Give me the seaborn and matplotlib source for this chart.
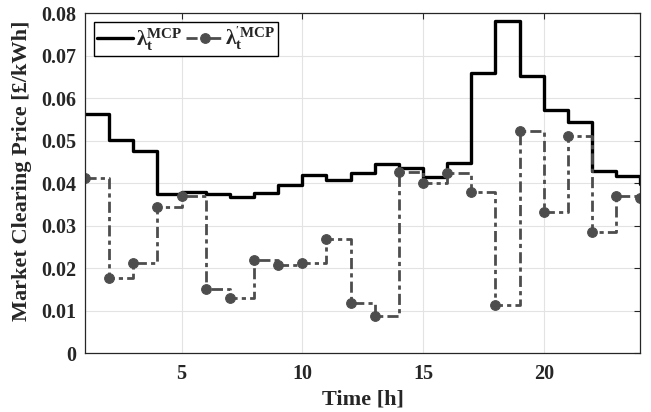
import numpy as np
import pandas as pd
import matplotlib
matplotlib.use("Agg")
import matplotlib.pyplot as plt
import seaborn as sns

hours = list(range(1, 25))
mcp = [0.0562, 0.0501, 0.0476, 0.0374, 0.0380, 0.0375, 0.0368, 0.0377,
       0.0395, 0.0419, 0.0407, 0.0423, 0.0444, 0.0435, 0.0415, 0.0448,
       0.0660, 0.0781, 0.0652, 0.0573, 0.0544, 0.0428, 0.0417, 0.0399]
mcp_prime = [0.0411, 0.0176, 0.0211, 0.0344, 0.0369, 0.0152, 0.0129, 0.0219,
             0.0207, 0.0212, 0.0268, 0.0118, 0.0087, 0.0427, 0.0401, 0.0424,
             0.0380, 0.0113, 0.0523, 0.0332, 0.0511, 0.0284, 0.0369, 0.0364]
xticks = [5, 10, 15, 20]
yticks = [0, 0.01, 0.02, 0.03, 0.04, 0.05, 0.06, 0.07, 0.08]
ytick_labels = ["0", "0.01", "0.02", "0.03", "0.04", "0.05", "0.06", "0.07", "0.08"]

sns.set_style("whitegrid")
plt.rcParams["font.family"] = ["Liberation Serif", "DejaVu Serif"]
plt.rcParams["font.weight"] = "bold"
plt.rcParams["mathtext.fontset"] = "custom"
plt.rcParams["mathtext.rm"] = "Liberation Serif:bold"
plt.rcParams["mathtext.bf"] = "Liberation Serif:bold"
plt.rcParams["mathtext.it"] = "Liberation Serif:bold"
plt.rcParams["mathtext.bfit"] = "Liberation Serif:bold"

TXT = "#262626"
df = pd.DataFrame({"h": hours, "a": mcp, "b": mcp_prime})

fig = plt.figure(figsize=(6.51, 4.12), dpi=100)
ax = fig.add_axes([0.1306, 0.143, 0.853, 0.825])

sns.lineplot(data=df, x="h", y="a", ax=ax, color="black", linewidth=2.4,
             drawstyle="steps-post", label="λ$_{t}^{MCP}$")
sns.lineplot(data=df, x="h", y="b", ax=ax, color="#4d4d4d", linewidth=2.0,
             drawstyle="steps-post", marker="o", markersize=7,
             markeredgecolor="#4d4d4d", markerfacecolor="#4d4d4d",
             dashes=False, linestyle=(0, (4, 1.5, 1.5, 1.5)),
             label="λ$_{t}^{'MCP}$")

ax.set_xlim(1, 24)
ax.set_ylim(0, 0.08)
ax.set_xticks(xticks)
ax.set_yticks(yticks)
ax.set_yticklabels(ytick_labels)
ax.tick_params(direction="in", length=4, labelsize=14.5, colors=TXT,
               top=True, right=True, width=0.8)
ax.tick_params(axis="y", pad=6)
ax.tick_params(axis="x", pad=8)
for lab in ax.get_xticklabels() + ax.get_yticklabels():
    lab.set_fontweight("bold")
ax.grid(True, color="#e3e3e3", linewidth=0.8)
for s in ax.spines.values():
    s.set_visible(True)
    s.set_color(TXT)
    s.set_linewidth(0.9)

ax.set_xlabel("Time [h]", fontsize=16, fontweight="bold", color=TXT, labelpad=4)
ax.set_ylabel("Market Clearing Price [£/kWh]", fontsize=16, fontweight="bold",
              color=TXT)
ax.yaxis.set_label_coords(-0.095, 0.535)

leg = ax.legend(loc="upper left", ncol=2, frameon=True, fancybox=False,
                fontsize=15.5, handlelength=1.7, handletextpad=0.1,
                columnspacing=0.2, borderpad=0.15, borderaxespad=0.4)
leg.get_frame().set_edgecolor("black")
leg.get_frame().set_linewidth(1.0)
leg.get_frame().set_alpha(1.0)

fig.savefig("out.png", dpi=100)
